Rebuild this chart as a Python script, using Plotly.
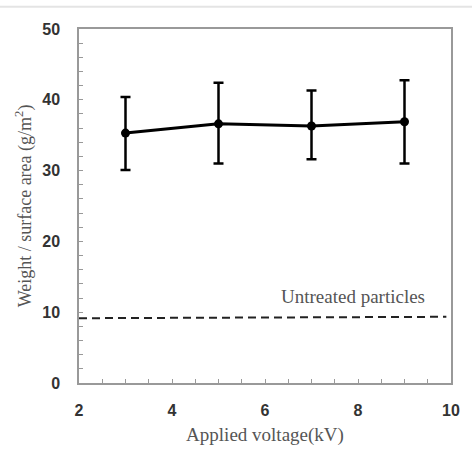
import plotly.graph_objects as go

voltage = [3, 5, 7, 9]
weight = [35.3, 36.6, 36.3, 36.9]
err_plus = [5.1, 5.8, 5.0, 5.85]
err_minus = [5.2, 5.6, 4.7, 5.9]

untreated_x = [2, 9.9]
untreated_y = [9.15, 9.35]

fig = go.Figure()
fig.add_trace(go.Scatter(
    x=untreated_x, y=untreated_y, mode="lines",
    line=dict(color="#222", width=2, dash="8px,5px"),
    showlegend=False, hoverinfo="skip"))
fig.add_trace(go.Scatter(
    x=voltage, y=weight, mode="lines+markers",
    line=dict(color="black", width=3),
    marker=dict(color="black", size=9),
    error_y=dict(type="data", symmetric=False, array=err_plus, arrayminus=err_minus,
                 color="black", thickness=2.5, width=5),
    showlegend=False))

fig.add_annotation(x=7.9, y=12.2, text="Untreated particles", showarrow=False,
                   font=dict(family="Liberation Serif", size=19, color="#555"))

fig.add_shape(type="line", xref="paper", yref="paper", x0=-0.3, x1=1.1, y0=1.063, y1=1.063,
              line=dict(color="#e4e4e4", width=2))

axis_common = dict(showline=True, linecolor="#999", linewidth=1.5, mirror=True,
                   showgrid=False, zeroline=False, ticks="inside", ticklen=4,
                   tickcolor="#999", tickwidth=1.2,
                   tickfont=dict(family="Liberation Sans", size=16, color="#333", weight="bold"))

fig.update_xaxes(range=[2, 10], dtick=2, tick0=2, ticklabelstandoff=12,
                 minor=dict(ticks="inside", dtick=0.5, ticklen=4, tickcolor="#999", tickwidth=1.2),
                 title=dict(text="Applied voltage(kV)", standoff=10,
                            font=dict(family="Liberation Serif", size=19, color="#555")),
                 **axis_common)
fig.update_yaxes(range=[0, 50], dtick=10, ticklabelstandoff=14,
                 minor=dict(ticks="inside", dtick=2, ticklen=4, tickcolor="#999", tickwidth=1.2),
                 title=dict(text="Weight / surface area (g/m<sup>2</sup>)", standoff=6,
                            font=dict(family="Liberation Serif", size=18, color="#555")),
                 **axis_common)

fig.update_layout(width=472, height=462, margin=dict(l=79, r=19, t=29, b=79),
                  plot_bgcolor="white", paper_bgcolor="white")
fig.write_html("out.html")
